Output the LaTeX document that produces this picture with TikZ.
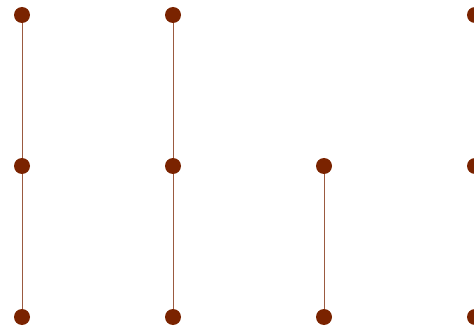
\documentclass[tikz,border=0pt]{standalone}
\definecolor{dotc}{HTML}{7A2300}
\begin{document}
\begin{tikzpicture}[x=1pt,y=-1pt,
  dotnode/.style={circle,fill=dotc,draw=none,minimum size=16pt,inner sep=0pt},
  edge/.style={draw=dotc!75!white,line width=1pt}]
\useasboundingbox (0,0) rectangle (474,326);
\foreach \c/\x in {1/22,2/173,3/324,4/475}{
  \foreach \r/\y in {1/15,2/166,3/317}{
    \coordinate (p\c\r) at (\x,\y);
  }
}
\draw[edge] (p11) -- (p12);
\draw[edge] (p12) -- (p13);
\draw[edge] (p21) -- (p22);
\draw[edge] (p22) -- (p23);
\draw[edge] (p32) -- (p33);
\foreach \n in {p11,p12,p13,p21,p22,p23,p32,p33,p41,p42,p43}{
  \node[dotnode] (d\n) at (\n) {};
}
\end{tikzpicture}
\end{document}
